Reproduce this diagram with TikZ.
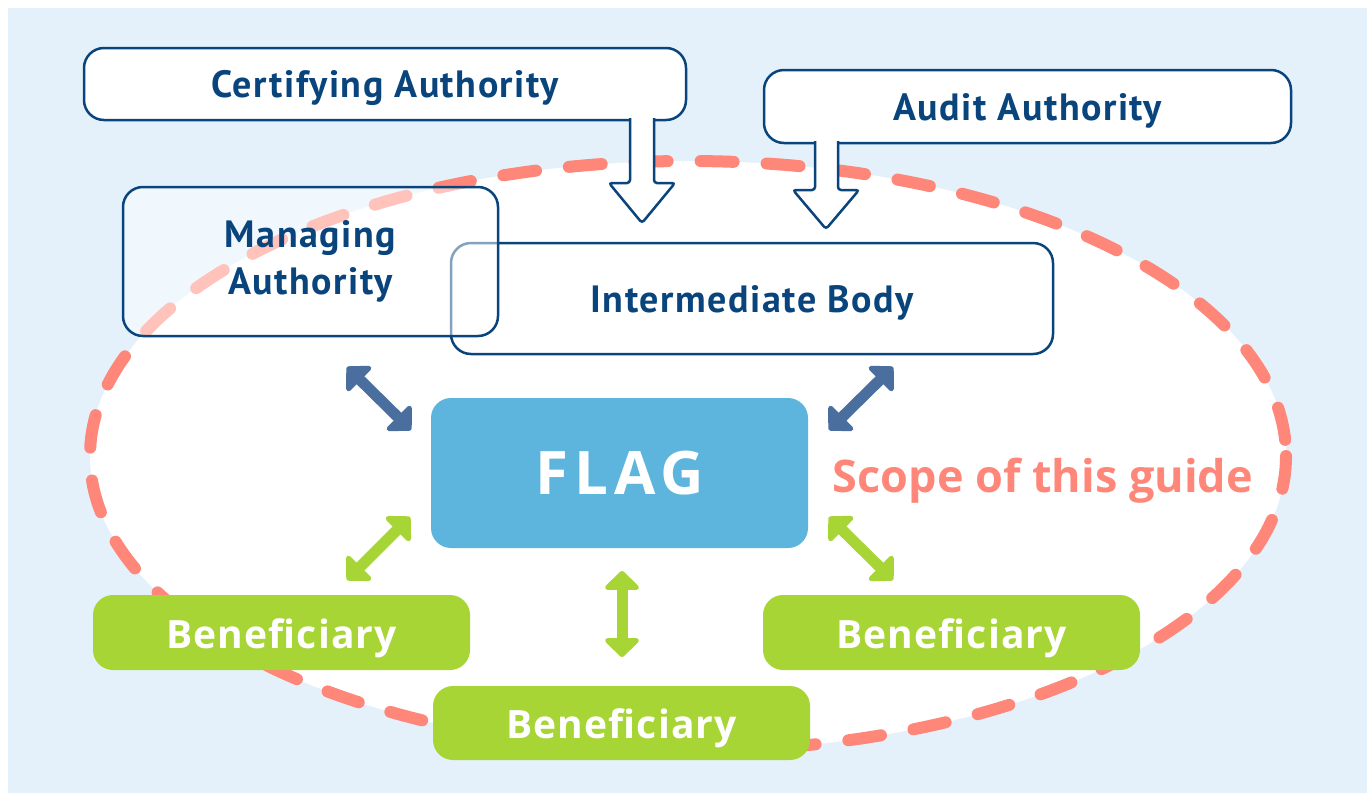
\documentclass[tikz,border=0pt]{standalone}
\usepackage{fontspec}
\setmainfont{Open Sans}
\newfontfamily\ptsans[LetterSpace=4]{PT Sans}
\usetikzlibrary{arrows.meta}
\definecolor{bgblue}{RGB}{228,241,251}
\definecolor{navy}{RGB}{9,69,124}
\definecolor{arrowblue}{RGB}{74,110,158}
\definecolor{flagblue}{RGB}{93,181,221}
\definecolor{salmon}{RGB}{255,135,122}
\definecolor{leaf}{RGB}{167,213,54}
\begin{document}
\begin{tikzpicture}[x=1pt,y=-1pt,
    authbox/.style={draw=navy,line width=2.5pt,rounded corners=20pt,fill=white,inner sep=0pt,text=navy,align=center,font=\ptsans\bfseries\fontsize{38}{44}\selectfont},
    benbox/.style={fill=leaf,rounded corners=20pt,minimum width=377pt,minimum height=75pt,inner sep=0pt,text height=31pt,text depth=0pt,text=white,font=\bfseries\fontsize{39}{44}\selectfont\addfontfeature{LetterSpace=3}},
    hollow/.style={draw=navy,fill=white,line width=2.5pt,rounded corners=3pt},
    dblarrow/.style={line width=11pt,{Triangle[length=20pt,width=40pt,round]}-{Triangle[length=20pt,width=40pt,round]}}]
    \useasboundingbox (0,0) rectangle (1372,793);
    \fill[bgblue] (8,8) rectangle (1367,793);
    \draw[salmon,fill=white,line width=12pt,line cap=round,dash pattern=on 33pt off 33pt] (688,456) ellipse [x radius=598,y radius=295];
    \node[authbox,minimum width=602pt,minimum height=72pt,text height=27pt,text depth=0pt] (cert) at (385,84) {Certifying Authority};
    \node[authbox,minimum width=527pt,minimum height=73pt,text height=27pt,text depth=0pt] (audit) at (1027.5,106.5) {Audit Authority};
    \coordinate (certout) at (630,118);
    \coordinate (auditout) at (815,141);
    \filldraw[hollow] (certout) -- ++(0,65) -- ++(-21,0) -- ++(33,40) -- ++(33,-40) -- ++(-21,0) -- ++(0,-65);
    \filldraw[hollow] (auditout) -- ++(0,49) -- ++(-22,0) -- ++(33,39) -- ++(33,-39) -- ++(-21,0) -- ++(0,-49);
    \node[authbox,minimum width=602pt,minimum height=111pt,text height=27pt,text depth=0pt] (inter) at (752,298.5) {Intermediate Body};
    \node[authbox,fill opacity=0.5,text opacity=1,minimum width=375pt,minimum height=149pt] (mgr) at (310.5,261.5) {Managing\\[3pt]Authority};
    \node[fill=flagblue,rounded corners=20pt,minimum width=377pt,minimum height=150pt,inner sep=0pt,text=white,font=\bfseries\fontsize{60}{60}\selectfont\addfontfeature{LetterSpace=10}] (flag) at (619.5,473) {FLAG};
    \node[anchor=base,inner sep=0pt,text=salmon,font=\bfseries\fontsize{45}{45}\selectfont] (scope) at (1043,492) {Scope of this guide};
    \coordinate (mgrend) at (347,367);
    \coordinate (mgrflag) at (411,430);
    \coordinate (interend) at (893,367);
    \coordinate (interflag) at (829,430);
    \coordinate (benoneflag) at (410,517);
    \coordinate (benone) at (347,580);
    \coordinate (bentwoflag) at (829,517);
    \coordinate (bentwo) at (893,580);
    \coordinate (benthreeflag) at (622,571);
    \coordinate (benthree) at (622,657);
    \draw[dblarrow,arrowblue] (mgrend) -- (mgrflag);
    \draw[dblarrow,arrowblue] (interend) -- (interflag);
    \draw[dblarrow,leaf] (benoneflag) -- (benone);
    \draw[dblarrow,leaf] (bentwoflag) -- (bentwo);
    \draw[dblarrow,leaf] (benthreeflag) -- (benthree);
    \node[benbox] (ben1) at (281.5,632.5) {Beneficiary};
    \node[benbox] (ben2) at (951.5,632.5) {Beneficiary};
    \node[benbox,minimum height=74pt] (ben3) at (621.5,723) {Beneficiary};
\end{tikzpicture}
\end{document}
